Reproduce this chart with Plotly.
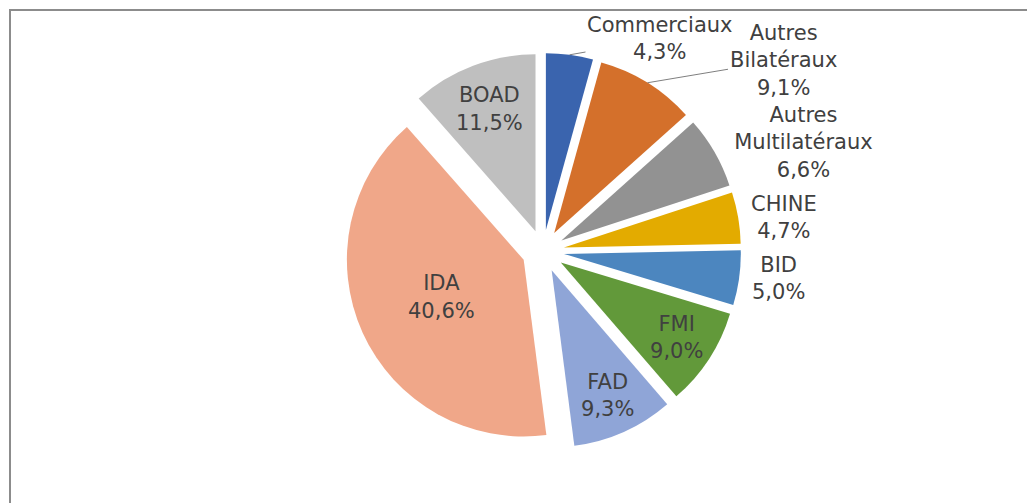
import math
import plotly.graph_objects as go

# Répartition de la dette par créancier (%)
creanciers = ["Commerciaux", "Autres<br>Bilatéraux", "Autres<br>Multilatéraux", "CHINE",
              "BID", "FMI", "FAD", "IDA", "BOAD"]
parts = [4.3, 9.1, 6.6, 4.7, 5.0, 9.0, 9.3, 40.6, 11.5]
couleurs = ["#3A64AE", "#D4702B", "#929292", "#E3AB00", "#4C86BF",
            "#62993A", "#8FA5D7", "#F0A789", "#BFBFBF"]
# les deux premiers libellés sont posés à part (avec trait de rappel)
positions = ["none", "none", "outside", "outside", "outside",
             "inside", "inside", "inside", "inside"]

# libellés en format français (virgule décimale)
parts_txt = [f"{p:.1f}%".replace(".", ",") for p in parts]

W, H = 1035, 503
# la page a une marge de 8 px, on décale donc tout
cx, cy, r = 535, 243, 198
PULL = 0.12
POLICE = dict(family="DejaVu Sans", size=21, color="#404040")

fig = go.Figure(go.Pie(
    labels=creanciers,
    values=parts,
    text=parts_txt,
    texttemplate="%{label}<br>%{text}",
    textposition=positions,
    sort=False,
    direction="clockwise",
    rotation=0,
    pull=[PULL] * len(parts),
    automargin=False,
    marker=dict(colors=couleurs, line=dict(width=0)),
    textfont=POLICE,
    insidetextorientation="horizontal",
    showlegend=False,
    domain=dict(x=[(cx - r) / W, (cx + r) / W],
                y=[(H - cy - r) / H, (H - cy + r) / H]),
))


# point sur le bord extérieur d'une part (milieu de l'arc), en pixels
def bord_part(i):
    total = sum(parts)
    frac = (sum(parts[:i]) + parts[i] / 2) / total
    a = 2 * math.pi * frac
    return cx + r * math.sin(a), cy - r * math.cos(a)


# libellés extérieurs avec trait de rappel : (indice, position du texte en px)
rappels = [(0, 652, 31), (1, 775, 52)]
for i, tx, ty in rappels:
    px, py = bord_part(i)
    fig.add_annotation(
        x=px / W, y=1 - py / H, xref="paper", yref="paper",
        ax=tx - px, ay=ty - py,
        text=f"{creanciers[i]}<br>{parts_txt[i]}",
        showarrow=True, arrowhead=0, arrowwidth=1, arrowcolor="#7F7F7F",
        font=POLICE, align="center",
    )

# cadre gris (haut et gauche visibles)
fig.add_shape(type="rect", xref="paper", yref="paper",
              x0=2 / W, x1=1.02, y0=-0.03, y1=1 - 2 / H,
              line=dict(color="#8C8C8C", width=2))

fig.update_layout(
    width=W, height=H,
    margin=dict(l=0, r=0, t=0, b=0, autoexpand=False),
    paper_bgcolor="white",
    plot_bgcolor="white",
)

fig.write_html("out.html")
